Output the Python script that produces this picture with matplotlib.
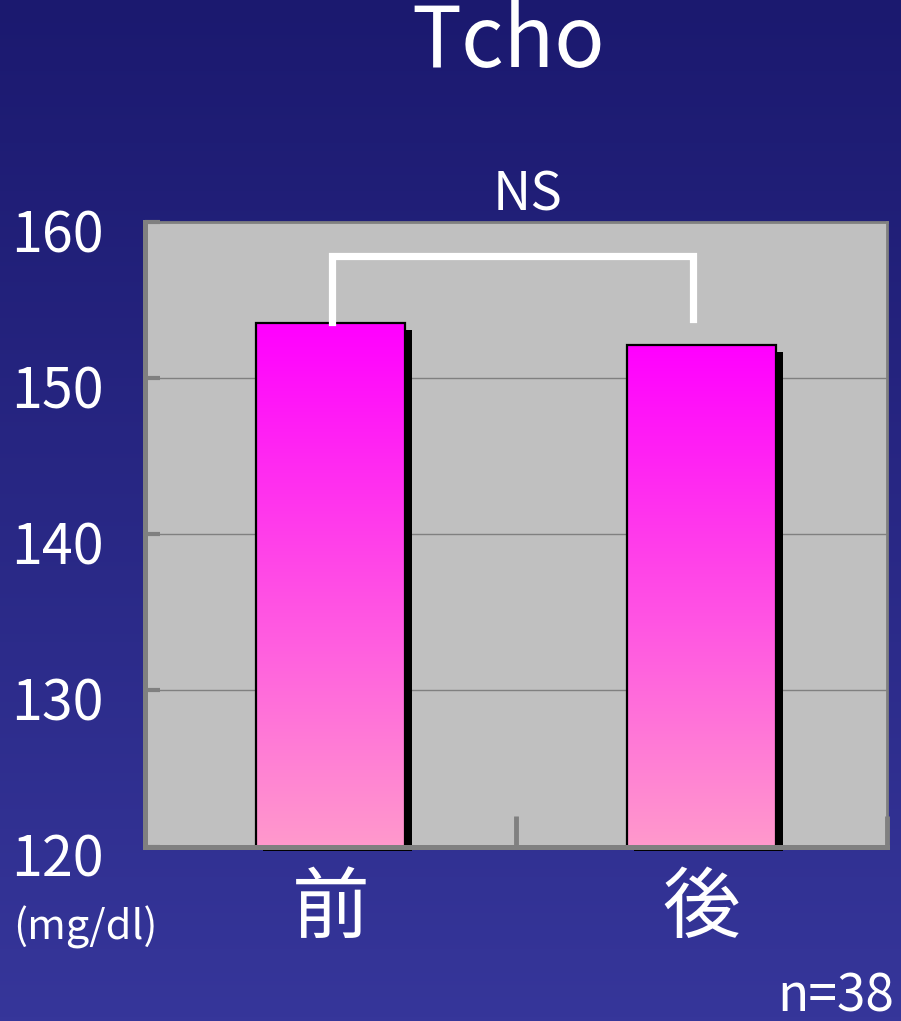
import numpy as np
import matplotlib
matplotlib.use("Agg")
import matplotlib.pyplot as plt
import matplotlib.transforms as mtransforms
from matplotlib.patches import Rectangle
from matplotlib.colors import LinearSegmentedColormap

plt.rcParams['font.family'] = ['Noto Sans CJK JP', 'DejaVu Sans']

# data
categories = ['前', '後']
values = [153.5, 152.1]
yticks = [120, 130, 140, 150, 160]
title = 'Tcho'
sig_label = 'NS'
n_label = 'n=38'
unit_label = '(mg/dl)'

W, H, DPI = 901, 1021, 100
fig = plt.figure(figsize=(W / DPI, H / DPI), dpi=DPI)

# navy background gradient
bg = fig.add_axes([0, 0, 1, 1], zorder=-10)
bg_cmap = LinearSegmentedColormap.from_list('bg', ['#1b196f', '#36369a'])
bg.imshow(np.linspace(0, 1, 256).reshape(-1, 1), cmap=bg_cmap, aspect='auto',
          extent=[0, 1, 0, 1])
bg.set_axis_off()

ax = fig.add_axes([145 / W, 1 - 846.5 / H, 742 / W, 624.5 / H])
ax.set_facecolor('#c0c0c0')
ax.set_xlim(-0.5, 1.5)
ax.set_ylim(120, 160)

# grid lines
for y in yticks[1:-1]:
    ax.axhline(y, color='#808080', lw=1.0, zorder=1)

bar_cmap = LinearSegmentedColormap.from_list('bar', ['#ff99cc', '#ff00ff'])
grad = np.linspace(0, 1, 256).reshape(-1, 1)
width = 0.4
shadow_tr = ax.transData + mtransforms.ScaledTranslation(7 / DPI, -7 / DPI, fig.dpi_scale_trans)
bb = ax.bbox
shadow_clip = mtransforms.Bbox.from_extents(bb.x0, bb.y0 - 4, bb.x1 + 20, bb.y1)
for i, v in enumerate(values):
    x0 = i - width / 2
    # drop shadow
    sh = ax.add_patch(Rectangle((x0, 120), width, v - 120, facecolor='black',
                                edgecolor='none', transform=shadow_tr, zorder=2))
    sh.set_clip_path(None)
    sh.set_clip_box(shadow_clip)
    ax.imshow(grad, cmap=bar_cmap, aspect='auto', origin='lower',
              extent=[x0, x0 + width, 120, v], zorder=3)
    ax.add_patch(Rectangle((x0, 120), width, v - 120, facecolor='none',
                           edgecolor='black', lw=1.6, zorder=4))
ax.set_xlim(-0.5, 1.5)
ax.set_ylim(120, 160)

# significance bracket
ax.plot([0.005, 0.005, 0.978, 0.978], [153.6, 157.8, 157.8, 153.8],
        color='white', lw=5.2, solid_joinstyle='miter', zorder=5)
ax.text(0.53, 161.7, sig_label, color='white', fontsize=38,
        ha='center', va='center', clip_on=False)

for side in ['left', 'bottom']:
    ax.spines[side].set_color('#808080')
    ax.spines[side].set_linewidth(3.6)
    ax.spines[side].set_zorder(6)
for side in ['top', 'right']:
    ax.spines[side].set_color('#808080')
    ax.spines[side].set_linewidth(2.0)

ax.set_yticks(yticks)
ax.set_yticklabels([str(t) for t in yticks])
ax.tick_params(axis='y', direction='in', length=11, width=3, color='#808080',
               labelsize=40, labelcolor='white', pad=30)
offset = mtransforms.ScaledTranslation(0, -8 / DPI, fig.dpi_scale_trans)
for lab in ax.get_yticklabels():
    lab.set_transform(lab.get_transform() + offset)

ax.set_xticks([0, 1])
ax.set_xticklabels(categories)
ax.set_xticks([-0.5, 0.5, 1.5], minor=True)
ax.tick_params(axis='x', which='major', length=0, labelsize=56,
               labelcolor='white', pad=17)
ax.tick_params(axis='x', which='minor', direction='in', length=22, width=3.5,
               color='#808080')

fig.text(508 / W, 1 - 43 / H, title, color='white', fontsize=60,
         ha='center', va='center')
fig.text(13 / W, 1 - 927 / H, unit_label, color='white', fontsize=30,
         ha='left', va='center')
fig.text(894 / W, 1 - 1011 / H, n_label, color='white', fontsize=37,
         ha='right', va='baseline')

fig.savefig('out.png', dpi=DPI)
